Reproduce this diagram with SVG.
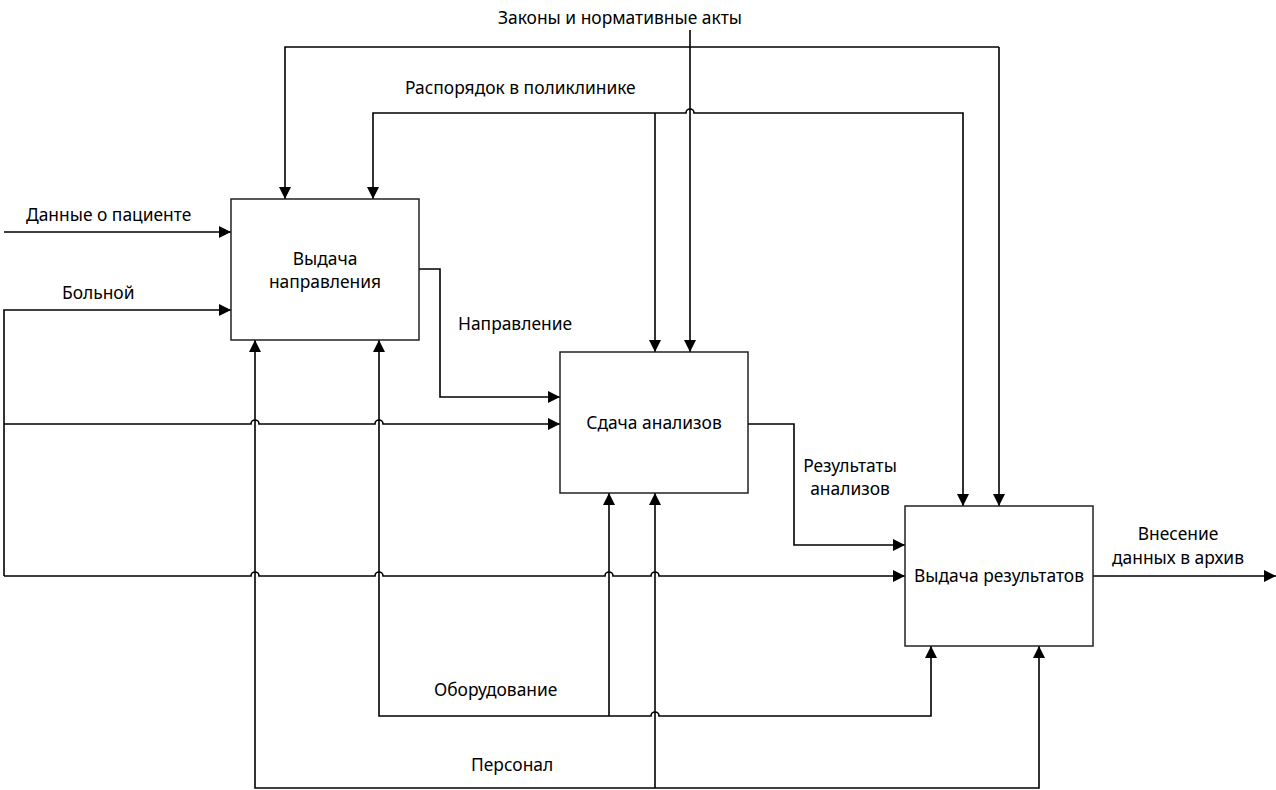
<svg xmlns="http://www.w3.org/2000/svg" width="1276" height="790" viewBox="0 0 1276 790">
<style>
.box{fill:#fff;stroke:#222;stroke-width:1.5}
.ln{fill:none;stroke:#000;stroke-width:1.6}
.t{font-family:"Noto Sans","Open Sans",sans-serif;font-size:17.4px;fill:#000}
.c{text-anchor:middle}
</style>
<defs>
<marker id="a" markerWidth="12" markerHeight="12" refX="10" refY="5" orient="auto" markerUnits="userSpaceOnUse" viewBox="0 0 10 10">
<path d="M0,0 L10,5 L0,10 z" fill="#000"/>
</marker>
</defs>
<rect width="1276" height="790" fill="#fff"/>
<g id="connectors">
<path class="ln" d="M690,30 V352" marker-end="url(#a)"/>
<path class="ln" d="M999,47 H285 V199" marker-end="url(#a)"/>
<path class="ln" d="M999,47 V506" marker-end="url(#a)"/>
<path class="ln" d="M655,113 H373 V199" marker-end="url(#a)"/>
<path class="ln" d="M655,113 V352" marker-end="url(#a)"/>
<path class="ln" d="M655,113 H686 a4,4 0 0 1 8,0 H963 V506" marker-end="url(#a)"/>
<path class="ln" d="M4,232 H231" marker-end="url(#a)"/>
<path class="ln" d="M4,576 V310 H231" marker-end="url(#a)"/>
<path class="ln" d="M4,424 H251 a4,4 0 0 1 8,0 H375 a4,4 0 0 1 8,0 H560" marker-end="url(#a)"/>
<path class="ln" d="M4,576 H251 a4,4 0 0 1 8,0 H375 a4,4 0 0 1 8,0 H605 a4,4 0 0 1 8,0 H651 a4,4 0 0 1 8,0 H905" marker-end="url(#a)"/>
<path class="ln" d="M419,269 H440 V397 H560" marker-end="url(#a)"/>
<path class="ln" d="M748,424 H794 V545 H905" marker-end="url(#a)"/>
<path class="ln" d="M1093,576 H1276" marker-end="url(#a)"/>
<path class="ln" d="M609,716 H379 V340" marker-end="url(#a)"/>
<path class="ln" d="M609,716 V493" marker-end="url(#a)"/>
<path class="ln" d="M609,716 H651 a4,4 0 0 1 8,0 H931 V646" marker-end="url(#a)"/>
<path class="ln" d="M655,788 H255 V340" marker-end="url(#a)"/>
<path class="ln" d="M655,788 V493" marker-end="url(#a)"/>
<path class="ln" d="M655,788 H1039 V646" marker-end="url(#a)"/>
</g>
<g id="labels">
<text class="t c" x="620" y="24">Законы и нормативные акты</text>
<text class="t" x="405" y="94">Распорядок в поликлинике</text>
<text class="t" x="26" y="221">Данные о пациенте</text>
<text class="t" x="62" y="299">Больной</text>
<text class="t" x="458" y="330">Направление</text>
<text class="t c" x="850" y="472">Результаты</text>
<text class="t c" x="850" y="495">анализов</text>
<text class="t c" x="1178" y="540">Внесение</text>
<text class="t c" x="1178" y="564">данных в архив</text>
<text class="t" x="434" y="696">Оборудование</text>
<text class="t" x="471" y="771">Персонал</text>
</g>
<g id="node1">
<rect class="box" x="231" y="199" width="188" height="141"/>
<text class="t c" x="325" y="265">Выдача</text>
<text class="t c" x="325" y="288">направления</text>
</g>
<g id="node2">
<rect class="box" x="560" y="352" width="188" height="141"/>
<text class="t c" x="654" y="429">Сдача анализов</text>
</g>
<g id="node3">
<rect class="box" x="905" y="506" width="188" height="140"/>
<text class="t c" x="999" y="582">Выдача результатов</text>
</g>
</svg>
